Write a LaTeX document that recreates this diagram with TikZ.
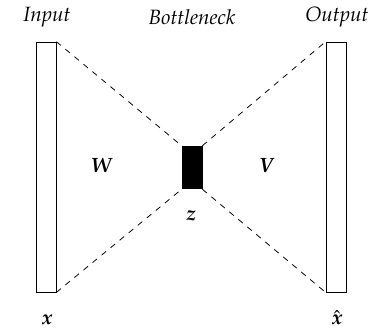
\documentclass[tikz,border=0pt]{standalone}
\usepackage[T1]{fontenc}
\usepackage{amsmath,amssymb}
\usepackage{mathpazo}
\usepackage{tikz}
\usetikzlibrary{positioning}

\begin{document}
\begin{tikzpicture}[
    x=0.018cm, y=-0.018cm,
    every node/.style={font=\fontsize{10.6}{13}\selectfont},
    layer/.style={rectangle, draw=black, fill=white, minimum width=0.36cm, minimum height=4.5cm, inner sep=0pt},
    code/.style={rectangle, draw=black, fill=black, minimum width=0.36cm, minimum height=0.77cm, inner sep=0pt},
    title/.style={font=\fontsize{10.6}{13}\selectfont\itshape},
    link/.style={dashed}
]
\useasboundingbox (0,0) rectangle (387,329);

% Nodes
\node (input) [layer] at (46,167) {};
\node (output) [layer] at (336,167) {};
\node (bottleneck) [code] at (192,167.5) {};

% Titles
\node [title] at (47,17) {Input};
\node [title] at (192,17) {Bottleneck};
\node [title] at (337,17) {Output};

% Labels
\node (w) at (102,165) {$\boldsymbol{W}$};
\node (v) at (267,165) {$\boldsymbol{V}$};
\node (z) at (191,216) {$\boldsymbol{z}$};
\node (x) at (47,320) {$\boldsymbol{x}$};
\node (xhat) at (337,318) {$\hat{\boldsymbol{x}}$};

% Dashed lines
\draw [link] (input.north east) -- (bottleneck.north west);
\draw [link] (input.south east) -- (bottleneck.south west);
\draw [link] (bottleneck.north east) -- (output.north west);
\draw [link] (bottleneck.south east) -- (output.south west);

\end{tikzpicture}
\end{document}
